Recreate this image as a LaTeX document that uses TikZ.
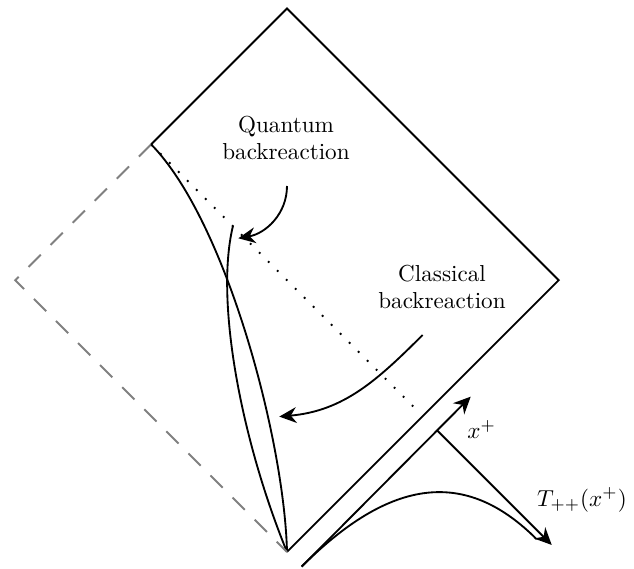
\documentclass[tikz,border=0pt]{standalone}
\usepackage{amsmath, amssymb}
\usepackage{tikz}
\usetikzlibrary{arrows.meta, positioning, calc}

\begin{document}
\begin{tikzpicture}[
        edge/.style={draw=black, thick},
        ghost/.style={draw=gray, thick, dash pattern=on 7.5pt off 6pt},
        nullray/.style={draw=black, line width=0.8pt, dash pattern=on 0.8pt off 4.7pt},
        flow/.style={draw=black, thick, -{Stealth[length=2.6mm, width=2.4mm]}},
        lbl/.style={align=center, inner sep=2pt}
    ]
        \useasboundingbox (-4.362,-0.258) rectangle (5.274,8.389);

        % Esquinas del diagrama
        \coordinate (bot) at (0,0);
        \coordinate (right) at (4.13,4.13);
        \coordinate (top) at (0,8.26);
        \coordinate (left) at (-4.13,4.13);
        \coordinate (corner) at (-2.065,6.195);
        \coordinate (mid) at (2.065,2.065);
        \coordinate (qstart) at (-0.821,4.955);

        % Frontera y region completa
        \draw [edge] (corner) -- (top) -- (right) -- (bot);
        \draw [edge] (corner) .. controls (-0.912,5.016) and (-0.038,1.672) .. (bot);
        \draw [edge] (qstart) .. controls (-1.102,3.80) and (-0.684,1.672) .. (bot);
        \draw [ghost] (corner) -- (left) -- (bot);
        \draw [nullray] (corner) -- ($(corner)!0.985!(mid)$);

        % Etiquetas y flechas
        \node [lbl] (quantum) at (-0.015,6.29) {Quantum\\backreaction};
        \node [lbl] (classical) at (2.356,4.027) {Classical\\backreaction};
        \coordinate (qfrom) at (0,5.562);
        \coordinate (qto) at (-0.74,4.767);
        \coordinate (cfrom) at (2.062,3.298);
        \coordinate (cto) at (-0.117,2.057);
        \draw [flow] (qfrom) to[out=-90, in=10] (qto);
        \draw [flow] (cfrom) to[out=225, in=5] (cto);

        % Ejes x^+ y T_{++}
        \coordinate (xo) at (0.223,-0.223);
        \coordinate (xtip) at (2.792,2.36);
        \coordinate (to) at ($(mid)+(0.223,-0.223)$);
        \coordinate (ttip) at (4.024,0.106);
        \coordinate (tend) at (3.795,0.193);
        \draw [flow] (xo) -- (xtip);
        \draw [flow] (to) -- (ttip);
        \draw [edge] (xo) .. controls (1.673,1.227) and (2.795,1.193) .. (tend);
        \node (xlabel) at (2.96,1.86) {$x^+$};
        \node (tlabel) at (4.483,0.79) {$T_{++}(x^+)$};
    \end{tikzpicture}
\end{document}
